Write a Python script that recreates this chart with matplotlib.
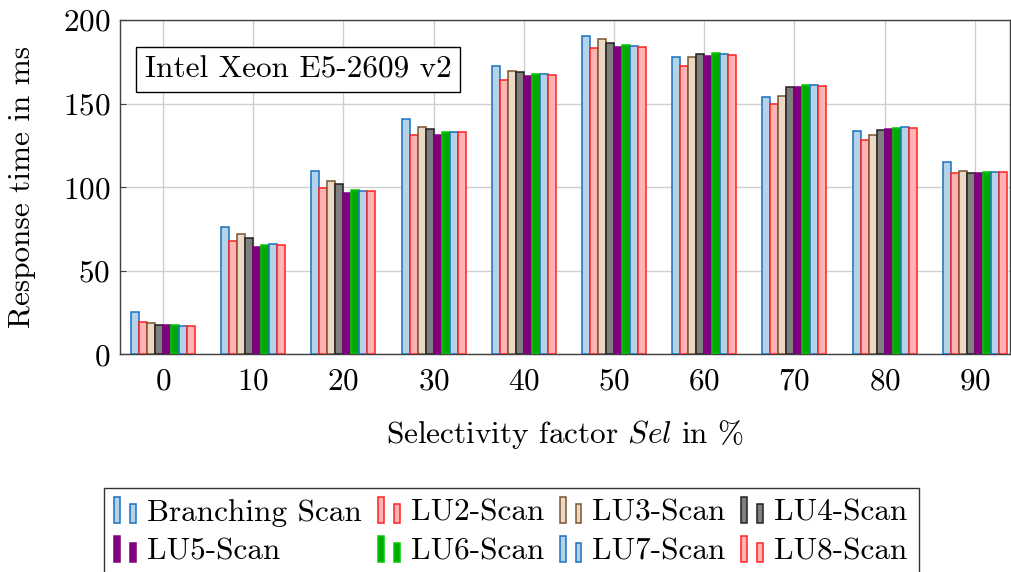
import numpy as np
import matplotlib
matplotlib.use('Agg')
import matplotlib.pyplot as plt
from matplotlib.patches import Rectangle
from matplotlib.legend_handler import HandlerBase

plt.rcParams['font.family'] = ['cmr10', 'DejaVu Serif']
plt.rcParams['mathtext.fontset'] = 'cm'
plt.rcParams['axes.unicode_minus'] = False
plt.rcParams['axes.formatter.use_mathtext'] = True

# response times (ms) per selectivity step
selectivity = [0, 10, 20, 30, 40, 50, 60, 70, 80, 90]
series_names = ['Branching Scan', 'LU2-Scan', 'LU3-Scan', 'LU4-Scan',
                'LU5-Scan', 'LU6-Scan', 'LU7-Scan', 'LU8-Scan']
branching = [25.4, 76.0, 109.8, 141.0, 172.6, 190.6, 177.8, 154.2, 133.6, 115.0]
lu2 = [19.4, 67.4, 99.2, 131.0, 164.2, 183.4, 172.4, 149.6, 128.2, 108.4]
lu3 = [18.4, 71.8, 103.6, 136.0, 169.6, 188.4, 178.0, 154.8, 131.4, 109.6]
lu4 = [17.2, 69.2, 102.0, 135.0, 168.6, 186.4, 179.6, 159.8, 134.2, 108.4]
lu5 = [17.2, 64.4, 96.6, 131.4, 166.4, 184.0, 178.4, 159.8, 135.0, 108.4]
lu6 = [17.2, 65.6, 98.2, 133.0, 167.4, 184.8, 180.0, 161.0, 135.6, 109.0]
lu7 = [16.8, 65.8, 97.6, 133.0, 167.8, 184.6, 179.8, 161.2, 136.0, 109.0]
lu8 = [16.8, 65.2, 97.4, 132.8, 167.0, 183.8, 179.2, 160.6, 135.4, 108.8]
yticks = [0, 50, 100, 150, 200]

all_series = [branching, lu2, lu3, lu4, lu5, lu6, lu7, lu8]
fills = ['#b4d2e8', '#ffb3b3', '#ebd9c6', '#808080',
         '#800080', '#00aa00', '#b4d2e8', '#ffb3b3']
edges = ['#1a6fc0', '#ff2020', '#7a5430', '#202020',
         '#800080', '#00cc00', '#1a6fc0', '#ff2020']

FS = 22.5


class TwoBars(HandlerBase):
    # legend image: two thin bars side by side, the second one shorter
    def create_artists(self, legend, orig, xdescent, ydescent, width, height,
                       fontsize, trans):
        fc = orig.get_facecolor()
        ec = orig.get_edgecolor()
        lw = orig.get_linewidth()
        w = width * 0.27
        x0 = -xdescent
        y0 = -ydescent - height * 0.12
        r1 = Rectangle((x0, y0), w, height * 1.2, fc=fc, ec=ec, lw=lw, transform=trans)
        r2 = Rectangle((x0 + width * 0.73, y0), w, height * 0.87, fc=fc, ec=ec, lw=lw,
                       transform=trans)
        return [r1, r2]


fig = plt.figure(figsize=(10.11, 5.72), dpi=100)
ax = fig.add_axes([0.1187, 0.381, 0.8803, 0.584])

bw = 0.887
x = np.array(selectivity, dtype=float)
handles = []
for i, vals in enumerate(all_series):
    b = ax.bar(x + (i - 3.5) * bw, vals, width=bw, color=fills[i],
               edgecolor=edges[i], linewidth=1.1, zorder=3,
               label=series_names[i])
    handles.append(b.patches[0])

ax.set_xlim(-4.77, 93.9)
ax.set_ylim(0, 200)
ax.set_xticks(selectivity)
ax.set_yticks(yticks)
ax.grid(True, color='#d0d0d0', linewidth=1.0, zorder=0)
ax.set_axisbelow(True)
for s in ax.spines.values():
    s.set_color('#404040')
    s.set_linewidth(1.0)
ax.tick_params(direction='in', length=4, color='#404040', labelsize=FS,
               pad=7)
ax.tick_params(axis='x', pad=10)
ax.set_xlabel('Selectivity factor $Sel$ in %', fontsize=FS, labelpad=16)
ax.set_ylabel('Response time in ms', fontsize=FS, labelpad=19)

ax.text(0.028, 0.852, 'Intel Xeon E5-2609 v2', transform=ax.transAxes,
        fontsize=FS, va='center', ha='left', zorder=5,
        bbox=dict(boxstyle='square,pad=0.28', fc='white', ec='black', lw=1.0))

# pgfplots fills the legend row by row; matplotlib goes column by column
order = [0, 4, 1, 5, 2, 6, 3, 7]
leg = fig.legend([handles[k] for k in order], [series_names[k] for k in order],
                 handler_map={h: TwoBars() for h in handles},
                 loc='upper center', bbox_to_anchor=(0.5055, 0.147), ncol=4,
                 fontsize=FS, frameon=True, fancybox=False, edgecolor='black',
                 borderaxespad=0, handlelength=0.7, handletextpad=0.35,
                 columnspacing=0.5, labelspacing=0.35, borderpad=0.35)
leg.get_frame().set_linewidth(1.0)

fig.savefig('out.png', dpi=100)
